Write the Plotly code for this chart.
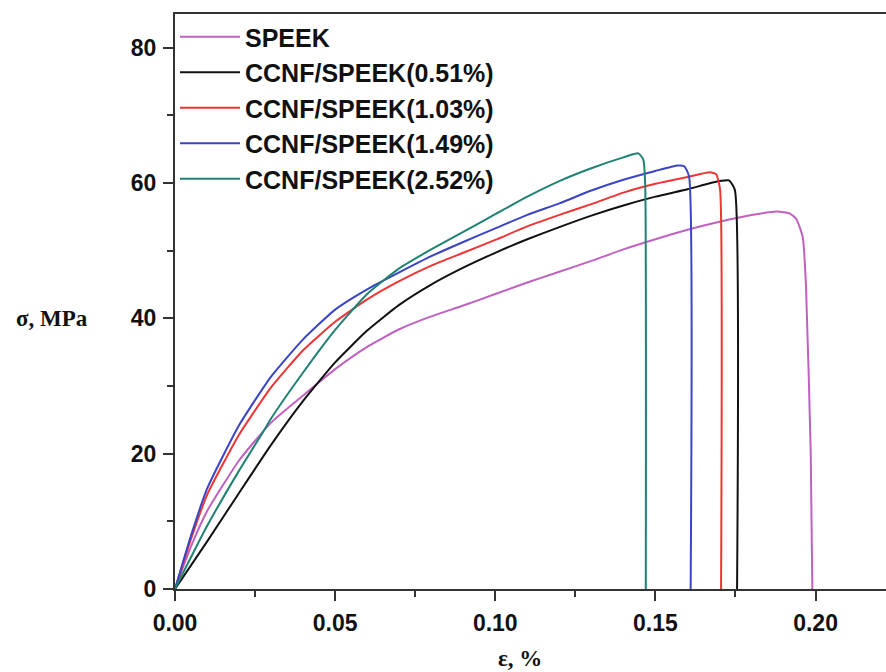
import plotly.graph_objects as go

# strain (x) and stress (y)
speek_x = [0, 0.005, 0.01, 0.02, 0.03, 0.04, 0.05, 0.06, 0.07, 0.08, 0.09, 0.10, 0.11, 0.12, 0.13, 0.14, 0.15, 0.16, 0.17, 0.18, 0.188, 0.192, 0.194, 0.196, 0.197, 0.1985, 0.199]
speek_y = [0, 6.3, 11.5, 19.0, 24.6, 28.6, 32.5, 35.8, 38.4, 40.3, 41.9, 43.6, 45.3, 46.9, 48.5, 50.2, 51.7, 53.1, 54.3, 55.3, 55.8, 55.5, 54.7, 52.0, 45.0, 20.0, 0]

c051_x = [0, 0.01, 0.02, 0.03, 0.04, 0.05, 0.06, 0.07, 0.08, 0.09, 0.10, 0.11, 0.12, 0.13, 0.14, 0.15, 0.16, 0.17, 0.173, 0.1748, 0.1755]
c051_y = [0, 7.0, 14.2, 21.3, 27.8, 33.5, 38.2, 42.0, 45.0, 47.5, 49.7, 51.7, 53.5, 55.2, 56.7, 58.0, 59.1, 60.3, 60.4, 59.0, 0]

c103_x = [0, 0.005, 0.01, 0.02, 0.03, 0.04, 0.05, 0.06, 0.07, 0.08, 0.09, 0.10, 0.11, 0.12, 0.13, 0.14, 0.15, 0.16, 0.167, 0.169, 0.1702, 0.1705]
c103_y = [0, 7.4, 13.9, 22.8, 29.8, 35.3, 39.5, 42.8, 45.5, 47.8, 49.7, 51.6, 53.6, 55.3, 56.9, 58.6, 59.9, 60.9, 61.6, 61.3, 59.0, 0]

c149_x = [0, 0.005, 0.01, 0.02, 0.03, 0.04, 0.05, 0.06, 0.07, 0.08, 0.09, 0.10, 0.11, 0.12, 0.13, 0.14, 0.15, 0.157, 0.159, 0.1605, 0.161]
c149_y = [0, 7.9, 14.8, 24.2, 31.4, 36.9, 41.3, 44.3, 46.8, 49.2, 51.3, 53.3, 55.3, 57.0, 58.9, 60.5, 61.8, 62.6, 62.5, 61.0, 0]

c252_x = [0, 0.01, 0.02, 0.0276, 0.03, 0.04, 0.05, 0.06, 0.07, 0.08, 0.09, 0.10, 0.11, 0.12, 0.13, 0.14, 0.1447, 0.1462, 0.1468, 0.147]
c252_y = [0, 9.3, 17.5, 23.3, 25.2, 32.0, 38.3, 43.6, 47.4, 50.2, 52.8, 55.4, 58.0, 60.3, 62.2, 63.8, 64.4, 63.5, 60.0, 0]

names = ["SPEEK", "CCNF/SPEEK(0.51%)", "CCNF/SPEEK(1.03%)", "CCNF/SPEEK(1.49%)", "CCNF/SPEEK(2.52%)"]
colors = ["#c060c0", "#111111", "#ee3535", "#3a44c4", "#1f8272"]
xs = [speek_x, c051_x, c103_x, c149_x, c252_x]
ys = [speek_y, c051_y, c103_y, c149_y, c252_y]

x_ticks = [0.00, 0.05, 0.10, 0.15, 0.20]
x_ticklabels = ["0.00", "0.05", "0.10", "0.15", "0.20"]
y_ticks = [0, 20, 40, 60, 80]

fig = go.Figure()
for x, y, n, c in zip(xs, ys, names, colors):
    fig.add_trace(go.Scatter(x=x, y=y, mode="lines", name=n,
                             line=dict(color=c, width=2, shape="spline", smoothing=0.5)))

axis_color = "#333333"
tickfont = dict(family="Liberation Sans, Arial, sans-serif", size=23, color="#111", weight="bold")

fig.update_layout(
    width=886, height=672,
    margin=dict(l=175, r=0, t=14, b=83),
    paper_bgcolor="white", plot_bgcolor="white",
    showlegend=True,
    legend=dict(x=0.0, y=1.0, xanchor="left", yanchor="top",
                bgcolor="rgba(0,0,0,0)", borderwidth=0,
                font=dict(family="Liberation Sans, Arial, sans-serif", size=25, color="#111", weight="bold"),
                itemwidth=60, tracegroupgap=0),
    xaxis=dict(range=[0, 0.222], tickvals=x_ticks, ticktext=x_ticklabels,
               showgrid=False, zeroline=False,
               showline=True, linecolor=axis_color, linewidth=2, mirror=True,
               ticks="outside", ticklen=10, tickwidth=2, tickcolor=axis_color,
               minor=dict(dtick=0.025, tick0=0, ticks="outside", ticklen=6, tickwidth=2, tickcolor=axis_color),
               tickfont=tickfont, ticklabelstandoff=2),
    yaxis=dict(range=[0, 85], tickvals=y_ticks,
               showgrid=False, zeroline=False,
               showline=True, linecolor=axis_color, linewidth=2, mirror=False,
               ticks="outside", ticklen=10, tickwidth=2, tickcolor=axis_color,
               minor=dict(dtick=10, tick0=0, ticks="outside", ticklen=6, tickwidth=2, tickcolor=axis_color),
               tickfont=tickfont, ticklabelstandoff=2),
    annotations=[
        dict(text="σ, MPa", xref="paper", yref="paper", x=-0.173, y=0.471,
             xanchor="center", yanchor="middle", showarrow=False,
             font=dict(family="Liberation Serif, Times New Roman, serif", size=23, color="#111", weight="bold")),
        dict(text="ε, %", xref="paper", yref="paper", x=0.485, y=-0.12,
             xanchor="center", yanchor="middle", showarrow=False,
             font=dict(family="Liberation Serif, Times New Roman, serif", size=23, color="#111", weight="bold")),
    ],
)

fig.write_html("out.html")
